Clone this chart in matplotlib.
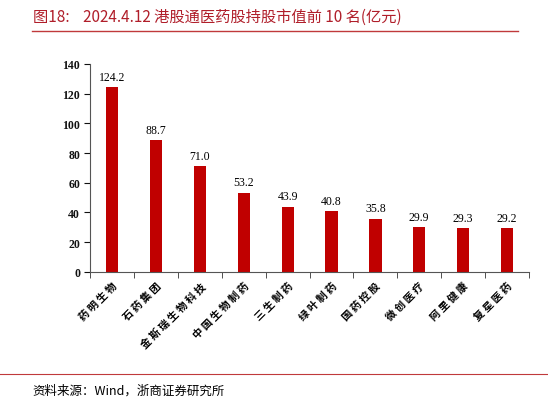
import matplotlib
matplotlib.use("Agg")
import matplotlib.pyplot as plt
from matplotlib.lines import Line2D

plt.rcParams['font.family'] = ['Noto Sans CJK SC', 'DejaVu Sans']

categories = ["药明生物", "石药集团", "金斯瑞生物科技", "中国生物制药", "三生制药",
              "绿叶制药", "国药控股", "微创医疗", "阿里健康", "复星医药"]
values = [124.2, 88.7, 71.0, 53.2, 43.9, 40.8, 35.8, 29.9, 29.3, 29.2]
yticks = [0, 20, 40, 60, 80, 100, 120, 140]

fig = plt.figure(figsize=(5.48, 4.06), dpi=100)
ax = fig.add_axes([0.165, 0.328, 0.80, 0.512])
x = list(range(len(categories)))
ax.bar(x, values, width=0.28, color="#C00000")
for i, v in zip(x, values):
    ax.text(i, v + 3, f"{v:.1f}", ha="center", va="bottom", fontsize=8.5,
            family=["Liberation Serif"])
ax.set_ylim(0, 140)
ax.set_xlim(-0.5, len(categories) - 0.5)
ax.set_yticks(yticks)
ax.set_yticklabels([str(t) for t in yticks], fontsize=8.5, family=["Liberation Serif"],
                   fontweight="bold")
ax.set_xticks(x)
ax.set_xticklabels([" ".join(c) for c in categories], rotation=45, ha="right",
                   rotation_mode="anchor", fontsize=7.5, fontweight="bold")
ax.set_xticks([i - 0.5 for i in range(len(categories) + 1)], minor=True)
ax.tick_params(axis="x", which="major", length=0, pad=6)
ax.tick_params(axis="x", which="minor", length=4, color="#333333")
ax.tick_params(axis="y", length=4, colors="#111111")
for s in ["top", "right"]:
    ax.spines[s].set_visible(False)
for s in ["left", "bottom"]:
    ax.spines[s].set_color("#555555")

fig.text(0.06, 0.958, "图18:    2024.4.12 港股通医药股持股市值前 10 名(亿元)",
         fontsize=11, color="#B01E2A", va="center")
fig.add_artist(Line2D([0.058, 0.945], [0.921, 0.921], color="#C0393B", lw=1))
fig.add_artist(Line2D([0.0, 1.0], [0.077, 0.077], color="#C0393B", lw=0.8))
fig.text(0.06, 0.037, "资料来源：Wind，浙商证券研究所", fontsize=9, va="center")

fig.savefig("out.png", dpi=100)
